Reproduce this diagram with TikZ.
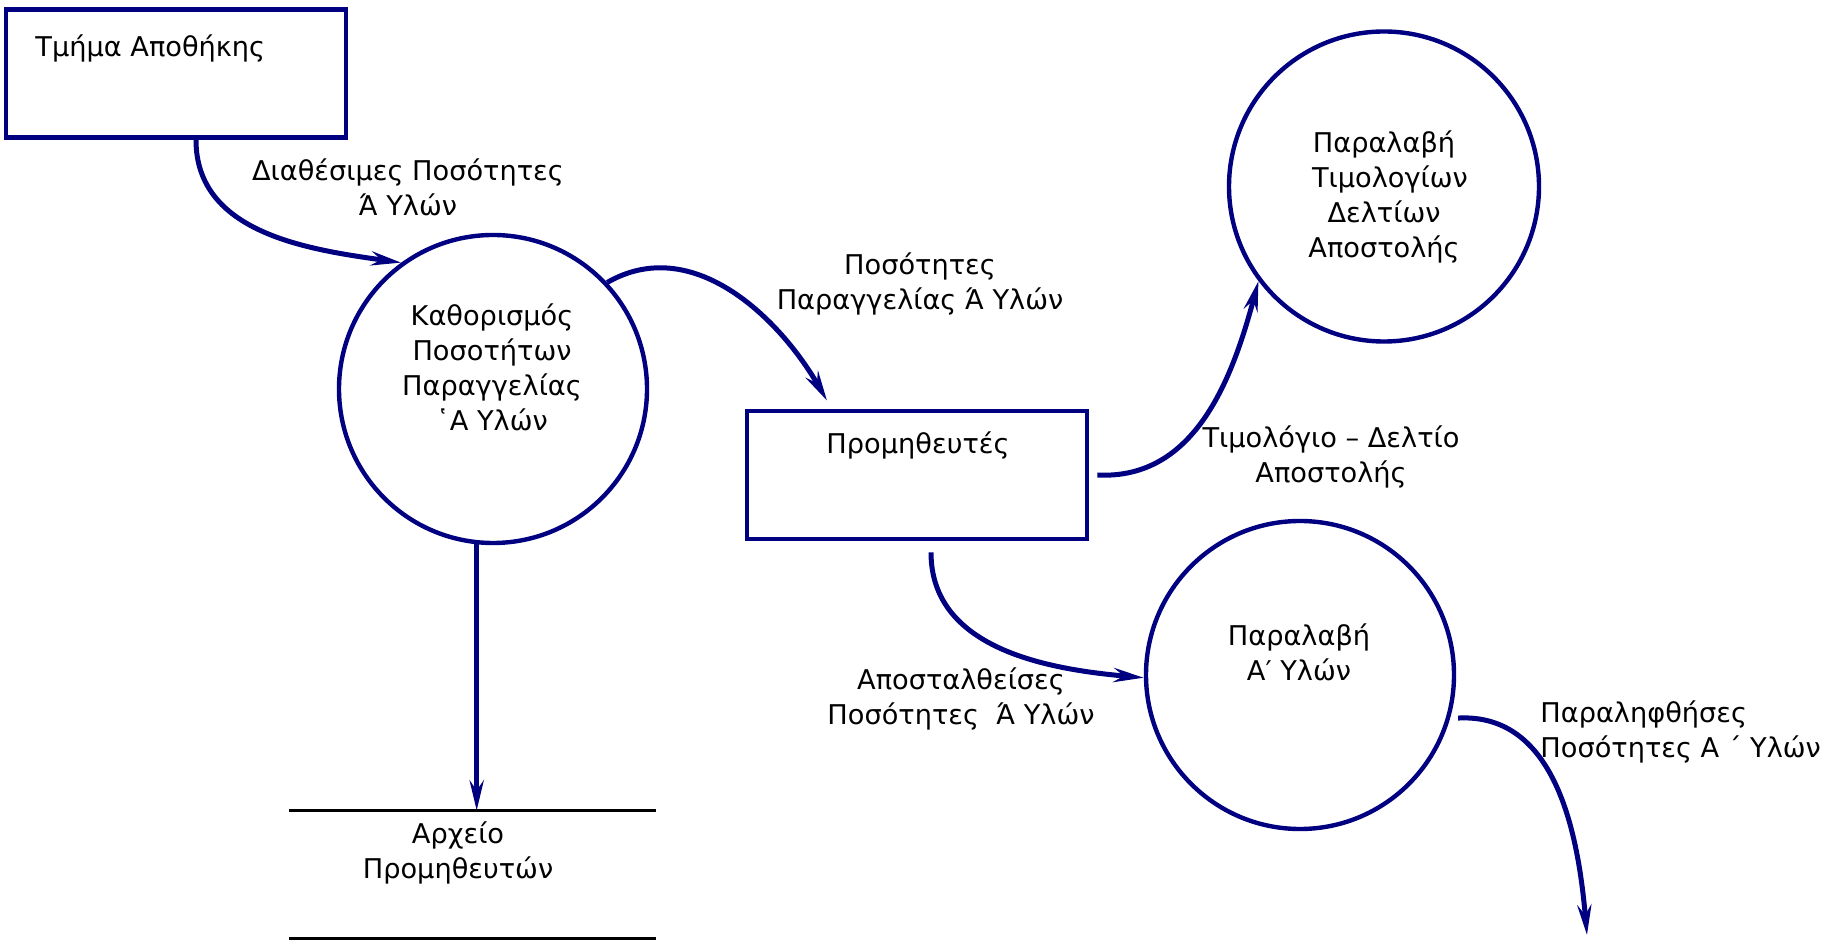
\documentclass[tikz,border=0pt]{standalone}
\usepackage{fontspec}
\setmainfont{DejaVu Sans}
\usetikzlibrary{arrows.meta,calc}
\definecolor{dfdblue}{RGB}{0,0,128}
\begin{document}
\begin{tikzpicture}[x=0.5pt,y=0.5pt,
  font=\fontsize{13.6}{17.5}\selectfont,
  entity/.style={draw=dfdblue,line width=2.4pt,minimum width=170pt,minimum height=64pt,inner sep=0},
  process/.style={circle,draw=dfdblue,line width=2.2pt,minimum size=154pt,inner sep=0},
  txt/.style={align=center,inner sep=0},
  flow/.style={draw=dfdblue,line width=2.5pt,-{Stealth[length=15pt,width=7pt,inset=5pt]}},
  storeline/.style={draw=black,line width=1.4pt}]
\useasboundingbox (0,0) rectangle (1827,-940);
\fill[white] (0,0) rectangle (1827,-940);

% external entities
\node[entity] (tmima) at (176,-73.5) {};
\node[txt,anchor=west] (tmimatxt) at (35,-48) {Τμήμα Αποθήκης};
\node[entity] (prom) at (917,-475) {};
\node[txt] (promtxt) at (918,-445) {Προμηθευτές};

% processes
\node[process] (c1) at (493,-389) {};
\node[txt] (c1txt) at (492,-367) {Καθορισμός\\Ποσοτήτων\\Παραγγελίας\\῾Α Υλών};
\node[process,minimum size=155pt] (c2) at (1384,-186.5) {};
\node[txt] (c2txt) at (1384,-197) {Παραλαβή\\\hspace*{6pt}Τιμολογίων\\Δελτίων\\Αποστολής};
\node[process] (c3) at (1300,-675) {};
\node[txt] (c3txt) at (1299,-652) {Παραλαβή\\Α′ Υλών};

% data store
\node[minimum width=183.5pt,minimum height=63.5pt,inner sep=0] (file) at (472.5,-874.5) {};
\draw[storeline] (file.north west) -- (file.north east) (file.south west) -- (file.south east);
\node[txt] (filetxt) at (458,-853) {Αρχείο\\Προμηθευτών};

% flow labels
\node[txt] (l1) at (408,-187.5) {Διαθέσιμες Ποσότητες\\Ά Υλών};
\node[txt] (l2) at (920,-284) {Ποσότητες\\Παραγγελίας Ά Υλών};
\node[txt] (l3) at (1331,-457) {Τιμολόγιο – Δελτίο\\Αποστολής};
\node[txt] (l4) at (961,-699) {Αποσταλθείσες\\Ποσότητες~ Ά Υλών};
\node[txt,align=left,anchor=west] (l6) at (1540,-731.5) {Παραληφθήσες\\Ποσότητες Α ΄  Υλών};

% data flows
\coordinate (out) at (1587,-935);
\draw[flow] ($(tmima.south)+(20,0)$) to[out=-90,in=172] (c1.126);
\draw[flow] (c1.43) to[out=30,in=120] ($(prom.north)+(-90,8)$);
\draw[flow] ($(prom.east)+(8,0)$) to[out=-3,in=255] (c2.217);
\draw[flow] ($(prom.south)+(14,-11)$) to[out=-90,in=175] (c3.181);
\draw[flow] (c1.264) -- (c1.264 |- file.north);
\draw[flow] ($(c3.-16)+(8,0)$) to[out=3,in=95] (out);
\end{tikzpicture}
\end{document}
